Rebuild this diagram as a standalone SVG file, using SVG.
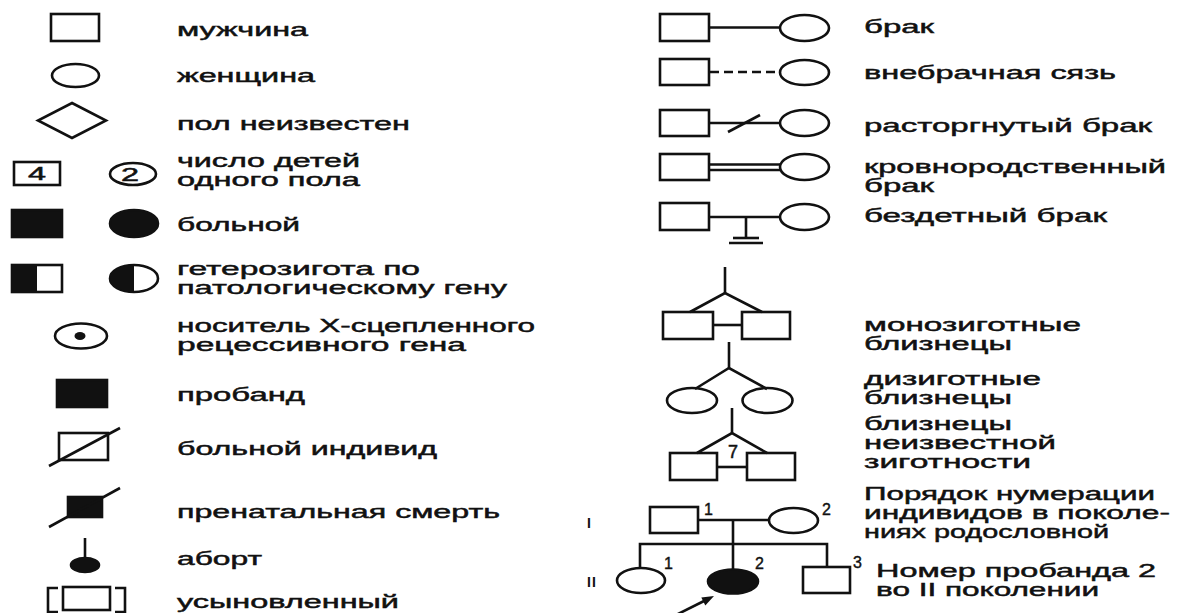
<svg xmlns="http://www.w3.org/2000/svg" width="1184" height="613" viewBox="0 0 1184 613">
<defs>
<style>
.s{fill:#fff;stroke:#111;stroke-width:2.6}
.f{fill:#111;stroke:#111;stroke-width:2.6}
.l{fill:none;stroke:#111;stroke-width:2.6}
.t{font-family:"Liberation Sans",Arial,sans-serif;font-size:18px;fill:#111;stroke:#111;stroke-width:0.45}
.n{font-family:"Liberation Sans",Arial,sans-serif;font-size:16px;fill:#111;stroke:#111;stroke-width:0.4}
.r{font-family:"Liberation Sans",Arial,sans-serif;font-size:14px;font-weight:bold;fill:#111}
.d{font-family:"Liberation Sans",Arial,sans-serif;font-size:18px;fill:#111;stroke:#111;stroke-width:0.5}
</style>
</defs>
<rect width="1184" height="613" fill="#fff"/>

<!-- left column -->
<g id="male">
<rect class="s" x="51" y="14" width="48" height="27"/>
<text class="t" x="177" y="36" textLength="131" lengthAdjust="spacingAndGlyphs">мужчина</text>
</g>
<g id="female">
<ellipse class="s" cx="75.5" cy="75.5" rx="23.5" ry="11.5"/>
<text class="t" x="177" y="82" textLength="138" lengthAdjust="spacingAndGlyphs">женщина</text>
</g>
<g id="unknown-sex">
<polygon class="s" points="72,103 106,120.5 72,138 38,120.5"/>
<text class="t" x="177" y="130" textLength="233" lengthAdjust="spacingAndGlyphs">пол неизвестен</text>
</g>
<g id="number-children">
<rect class="s" x="14" y="162" width="46" height="23"/>
<text class="d" x="37" y="180" text-anchor="middle" textLength="18" lengthAdjust="spacingAndGlyphs">4</text>
<ellipse class="s" cx="133" cy="174" rx="23" ry="11"/>
<text class="d" x="130" y="181" text-anchor="middle" textLength="18" lengthAdjust="spacingAndGlyphs">2</text>
<text class="t" x="177" y="167" textLength="183" lengthAdjust="spacingAndGlyphs">число детей</text>
<text class="t" x="177" y="186" textLength="183" lengthAdjust="spacingAndGlyphs">одного пола</text>
</g>
<g id="affected">
<rect class="f" x="12" y="210" width="50" height="27"/>
<ellipse class="f" cx="134" cy="223.5" rx="24" ry="13.5"/>
<text class="t" x="177" y="231" textLength="123" lengthAdjust="spacingAndGlyphs">больной</text>
</g>
<g id="heterozygote">
<rect class="s" x="12" y="265" width="50" height="27"/>
<rect fill="#111" x="12" y="265" width="25" height="27"/>
<ellipse class="s" cx="134" cy="278.5" rx="24" ry="13.5"/>
<path fill="#111" d="M134,265 A24,13.5 0 0 0 134,292 Z"/>
<text class="t" x="177" y="275" textLength="243" lengthAdjust="spacingAndGlyphs">гетерозигота по</text>
<text class="t" x="177" y="294" textLength="330" lengthAdjust="spacingAndGlyphs">патологическому гену</text>
</g>
<g id="x-carrier">
<ellipse class="s" cx="81" cy="336" rx="26" ry="12.5"/>
<ellipse fill="#111" cx="80" cy="336" rx="5.5" ry="4"/>
<text class="t" x="177" y="332" textLength="358" lengthAdjust="spacingAndGlyphs">носитель X-сцепленного</text>
<text class="t" x="177" y="351" textLength="289" lengthAdjust="spacingAndGlyphs">рецессивного гена</text>
</g>
<g id="proband">
<rect class="f" x="57" y="380" width="50" height="27"/>
<text class="t" x="177" y="401" textLength="128" lengthAdjust="spacingAndGlyphs">пробанд</text>
</g>
<g id="deceased">
<rect class="s" x="59" y="433" width="49" height="27"/>
<line class="l" x1="49" y1="466" x2="120" y2="428"/>
<text class="t" x="177" y="455" textLength="260" lengthAdjust="spacingAndGlyphs">больной индивид</text>
</g>
<g id="prenatal-death">
<rect class="f" x="68" y="497" width="34" height="20"/>
<line class="l" x1="49" y1="527" x2="120" y2="488"/>
<text class="t" x="177" y="518" textLength="323" lengthAdjust="spacingAndGlyphs">пренатальная смерть</text>
</g>
<g id="abortion">
<line class="l" x1="85" y1="538" x2="85" y2="560"/>
<ellipse class="f" cx="85" cy="565" rx="14" ry="7"/>
<text class="t" x="177" y="565" textLength="85" lengthAdjust="spacingAndGlyphs">аборт</text>
</g>
<g id="adopted">
<rect class="s" x="63" y="587" width="47" height="23"/>
<path class="l" d="M58,588 H48 V612 H58 M115,588 H125 V612 H115"/>
<text class="t" x="177" y="608" textLength="222" lengthAdjust="spacingAndGlyphs">усыновленный</text>
</g>

<!-- right column marriages -->
<g id="marriage">
<rect class="s" x="660" y="14" width="49" height="27"/>
<ellipse class="s" cx="804.5" cy="28" rx="24.5" ry="13"/>
<text class="t" x="864" y="33" textLength="70" lengthAdjust="spacingAndGlyphs">брак</text>
</g>
<g id="extramarital">
<rect class="s" x="660" y="59" width="49" height="26"/>
<ellipse class="s" cx="804.5" cy="72.5" rx="24.5" ry="12.5"/>
<text class="t" x="864" y="79" textLength="252" lengthAdjust="spacingAndGlyphs">внебрачная сязь</text>
</g>
<g id="divorce">
<rect class="s" x="660" y="110" width="49" height="26"/>
<ellipse class="s" cx="804.5" cy="123" rx="24.5" ry="13"/>
<text class="t" x="864" y="132" textLength="288" lengthAdjust="spacingAndGlyphs">расторгнутый брак</text>
</g>
<g id="consanguineous">
<rect class="s" x="660" y="154" width="49" height="26"/>
<ellipse class="s" cx="804.5" cy="167" rx="24.5" ry="13"/>
<text class="t" x="864" y="173" textLength="302" lengthAdjust="spacingAndGlyphs">кровнородственный</text>
<text class="t" x="864" y="192" textLength="70" lengthAdjust="spacingAndGlyphs">брак</text>
</g>
<g id="childless">
<rect class="s" x="660" y="203" width="49" height="27"/>
<ellipse class="s" cx="804.5" cy="217" rx="24.5" ry="13"/>
<text class="t" x="864" y="222" textLength="243" lengthAdjust="spacingAndGlyphs">бездетный брак</text>
</g>

<!-- twins -->
<g id="mono-twins">
<rect class="s" x="663" y="312" width="50" height="27"/>
<rect class="s" x="742" y="312" width="48" height="27"/>
<text class="t" x="864" y="331" textLength="217" lengthAdjust="spacingAndGlyphs">монозиготные</text>
<text class="t" x="864" y="350" textLength="148" lengthAdjust="spacingAndGlyphs">близнецы</text>
</g>
<g id="di-twins">
<ellipse class="s" cx="692" cy="400.5" rx="25" ry="12.5"/>
<ellipse class="s" cx="767.5" cy="400.5" rx="25" ry="12.5"/>
<text class="t" x="864" y="385" textLength="177" lengthAdjust="spacingAndGlyphs">дизиготные</text>
<text class="t" x="864" y="404" textLength="148" lengthAdjust="spacingAndGlyphs">близнецы</text>
</g>
<g id="unknown-twins">
<rect class="s" x="670" y="453" width="47" height="27"/>
<rect class="s" x="747" y="453" width="48" height="27"/>
<text class="d" x="733" y="458" text-anchor="middle" font-size="21">7</text>
<text class="t" x="864" y="430" textLength="148" lengthAdjust="spacingAndGlyphs">близнецы</text>
<text class="t" x="864" y="449" textLength="192" lengthAdjust="spacingAndGlyphs">неизвестной</text>
<text class="t" x="864" y="468" textLength="167" lengthAdjust="spacingAndGlyphs">зиготности</text>
</g>

<!-- pedigree -->
<g id="gen-I">
<text class="r" x="589" y="528" text-anchor="middle">I</text>
<rect class="s" x="650" y="507" width="48" height="26"/>
<text class="n" x="704" y="515">1</text>
<ellipse class="s" cx="793.5" cy="520.5" rx="24.5" ry="12.5"/>
<text class="n" x="822" y="515">2</text>
</g>
<g id="gen-II">
<text class="r" x="592" y="587" text-anchor="middle" letter-spacing="1">II</text>
<ellipse class="s" cx="641" cy="580.5" rx="24" ry="12.5"/>
<text class="n" x="664" y="569">1</text>
<ellipse class="f" cx="733" cy="581.5" rx="25" ry="12"/>
<text class="n" x="755" y="569">2</text>
<rect class="s" x="803" y="567" width="47" height="26"/>
<text class="n" x="853" y="568">3</text>
</g>
<g id="pedigree-labels">
<text class="t" x="864" y="500" textLength="291" lengthAdjust="spacingAndGlyphs">Порядок нумерации</text>
<text class="t" x="864" y="519" textLength="306" lengthAdjust="spacingAndGlyphs">индивидов в поколе-</text>
<text class="t" x="864" y="538" textLength="245" lengthAdjust="spacingAndGlyphs">ниях родословной</text>
<text class="t" x="876" y="577" textLength="280" lengthAdjust="spacingAndGlyphs">Номер пробанда 2</text>
<text class="t" x="876" y="596" textLength="223" lengthAdjust="spacingAndGlyphs">во II поколении</text>
</g>

<g id="connectors">
<line class="l" x1="709" y1="27.5" x2="780" y2="27.5"/>
<line class="l" x1="710" y1="72" x2="780" y2="72" stroke-dasharray="9,5"/>
<line class="l" x1="709" y1="123" x2="780" y2="123"/>
<line class="l" x1="728" y1="132" x2="760" y2="115"/>
<line class="l" x1="709" y1="164.5" x2="780" y2="164.5"/>
<line class="l" x1="709" y1="170" x2="780" y2="170"/>
<line class="l" x1="709" y1="217" x2="780" y2="217"/>
<line class="l" x1="746" y1="217" x2="746" y2="238"/>
<line class="l" x1="733" y1="238" x2="759" y2="238"/>
<line class="l" x1="729" y1="243" x2="763" y2="243"/>
<line class="l" x1="725" y1="267" x2="725" y2="293"/>
<polyline class="l" points="690,312 725,293 762,312"/>
<line class="l" x1="713" y1="325" x2="742" y2="325"/>
<line class="l" x1="729" y1="342" x2="729" y2="368"/>
<polyline class="l" points="695,389 729,368 767,389"/>
<line class="l" x1="732" y1="408" x2="732" y2="433"/>
<polyline class="l" points="697,453 732,433 767,453"/>
<line class="l" x1="717" y1="467" x2="747" y2="467"/>
<line class="l" x1="698" y1="520" x2="769" y2="520"/>
<line class="l" x1="733" y1="520" x2="733" y2="570"/>
<polyline class="l" points="640,568 640,544 827,544 827,567"/>
<line class="l" x1="672" y1="617" x2="704" y2="601"/>
<polygon fill="#111" points="714,596 705.3,605.4 701.3,597.4"/>
</g>
</svg>
